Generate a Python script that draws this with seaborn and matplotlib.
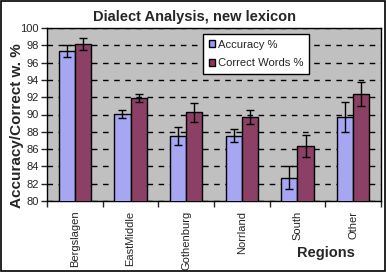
import pandas as pd
import seaborn as sns
import matplotlib.pyplot as plt
from matplotlib.patches import Rectangle, Patch

# values
regions = ['Bergslagen', 'EastMiddle', 'Gothenburg', 'Norrland', 'South', 'Other']
accuracy = [97.35, 90.05, 87.55, 87.55, 82.7, 89.75]
accuracy_err = [0.7, 0.5, 1.05, 0.75, 1.35, 1.75]
correct_words = [98.15, 91.95, 90.25, 89.7, 86.35, 92.35]
correct_words_err = [0.65, 0.45, 1.1, 0.85, 1.25, 1.42]
series = ['Accuracy %', 'Correct Words %']
colors = ['#9999FF', '#993366']

sns.set_style('white')
plt.rcParams['font.family'] = ['Liberation Sans', 'DejaVu Sans']

# long format for seaborn
data = pd.DataFrame({
    'Region': regions * 2,
    'Series': [series[0]] * len(regions) + [series[1]] * len(regions),
    'Value': accuracy + correct_words,
})
errs = [accuracy_err, correct_words_err]

fig = plt.figure(figsize=(3.86, 2.72), dpi=100)
ax = fig.add_axes([47 / 386, 1 - 201 / 272, 334 / 386, 173 / 272])
ax.set_facecolor('#C0C0C0')

sns.barplot(data=data, x='Region', y='Value', hue='Series', order=regions,
            hue_order=series, palette=colors, width=0.58, errorbar=None,
            edgecolor='black', linewidth=1, legend=False, ax=ax, zorder=3)

# error bars at the bar centres
for cont, err in zip(ax.containers, errs):
    xs = [p.get_x() + p.get_width() / 2 for p in cont.patches]
    ys = [p.get_height() for p in cont.patches]
    ax.errorbar(xs, ys, yerr=err, fmt='none', ecolor='black', elinewidth=1,
                capsize=3, capthick=1, zorder=4)

ax.set_ylim(80, 100)
ax.set_xlim(-0.5, len(regions) - 0.5)
ax.set_yticks(range(80, 101, 2))
ax.yaxis.grid(True, color='black', linestyle=(0, (4, 4)), linewidth=1)
ax.set_axisbelow(True)
for s in ax.spines.values():
    s.set_color('black')
    s.set_linewidth(1)

ax.tick_params(axis='y', direction='out', length=4, width=1, labelsize=8,
               pad=2, left=True)
ax.set_xticks(range(len(regions)))
ax.set_xticklabels(regions, rotation=90, fontsize=8)
ax.tick_params(axis='x', which='major', length=0, pad=7)
ax.set_xticks([i + 0.5 for i in range(-1, len(regions))], minor=True)
ax.tick_params(axis='x', which='minor', direction='out', length=4, width=1,
               bottom=True)
ax.set_xlabel('')
ax.set_ylabel('')

handles = [Patch(facecolor=c, edgecolor='black', linewidth=1) for c in colors]
leg = ax.legend(handles, series, loc='upper left',
                bbox_to_anchor=(0.467, 0.965), fontsize=8.1, frameon=True,
                fancybox=False, edgecolor='black', framealpha=1,
                handlelength=0.55, handleheight=0.55, handletextpad=0.3,
                labelspacing=0.75, borderpad=0.5, borderaxespad=0)
leg.get_frame().set_linewidth(1)
leg.set_zorder(5)

fig.text(0.504, 1 - 17 / 272, 'Dialect Analysis, new lexicon',
         ha='center', va='center', fontsize=10.5, fontweight='bold')
fig.text(17 / 386, 1 - 126 / 272, 'Accuracy/Correct w. %', rotation=90,
         ha='center', va='center', fontsize=11, fontweight='bold')
fig.text(326 / 386, 1 - 253 / 272, 'Regions', ha='center', va='center',
         fontsize=10.5, fontweight='bold')

# outer chart border
fig.patches.append(Rectangle((0.002, 0.002), 0.995, 0.995,
                             transform=fig.transFigure, fill=False,
                             edgecolor='black', linewidth=1.2))

fig.savefig('out.png', dpi=100)
